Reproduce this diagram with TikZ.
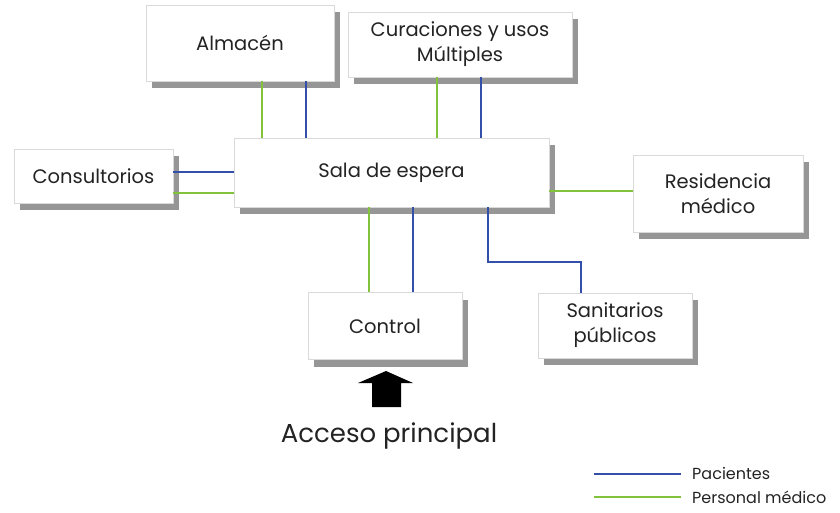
\documentclass[tikz,border=0pt]{standalone}
\usepackage{fontspec}
\setmainfont{Poppins}
\usetikzlibrary{shadows}
\definecolor{pacblue}{RGB}{50,80,170}
\definecolor{pergreen}{RGB}{130,195,60}
\definecolor{txt}{RGB}{35,35,35}
\definecolor{shad}{RGB}{150,150,150}
\begin{document}
\begin{tikzpicture}[x=1pt,y=-1pt,
  room/.style={draw=black!15, line width=0.5pt, fill=white, inner sep=0pt, align=center,
    text=txt, font=\fontsize{19.5}{25}\selectfont,
    drop shadow={shadow xshift=6pt, shadow yshift=-7pt, fill=shad, opacity=1}},
  pac/.style={draw=pacblue, line width=1.4pt},
  per/.style={draw=pergreen, line width=1.4pt}]
\useasboundingbox (0,0) rectangle (840,512);
\node[room, minimum width=188, minimum height=76] (alm) at (240,43) {Almacén};
\node[room, minimum width=224, minimum height=65] (cur) at (460,44.5) {Curaciones y usos\\Múltiples};
\node[room, minimum width=315, minimum height=69] (sala) at (391.5,172.5) {Sala de espera};
\node[room, minimum width=159, minimum height=54] (cons) at (93.5,176) {\raisebox{-3pt}{Consultorios}};
\node[room, minimum width=170, minimum height=77] (res) at (718,193.5) {Residencia\\médico};
\node[room, minimum width=154, minimum height=67] (ctrl) at (385,326) {Control};
\node[room, minimum width=154, minimum height=65] (san) at (615,325.5) {Sanitarios\\públicos};
% connectors
\draw[per] (alm.south -| 262,0) -- (sala.north -| 262,0);
\draw[pac] (alm.south -| 306,0) -- (sala.north -| 306,0);
\draw[per] (cur.south -| 437,0) -- (sala.north -| 437,0);
\draw[pac] (cur.south -| 481,0) -- (sala.north -| 481,0);
\draw[pac, line width=2.2pt] (cons.east |- 0,172) -- (sala.west |- 0,172);
\draw[per] (cons.east |- 0,193) -- (sala.west |- 0,193);
\draw[per] (sala.east |- 0,191) -- (res.west |- 0,191);
\draw[per] (sala.south -| 369,0) -- (ctrl.north -| 369,0);
\draw[pac] (sala.south -| 413,0) -- (ctrl.north -| 413,0);
\coordinate (bend1) at (488,262);
\coordinate (bend2) at (581,262);
\draw[pac] (sala.south -| bend1) -- (bend1) -- (bend2) -- (san.north -| bend2);
% entrance arrow
\fill[black] (372,407) -- (401,407) -- (401,383) -- (413,383) -- (386,371) -- (358,383) -- (372,383) -- cycle;
\node[text=txt, font=\fontsize{26}{30}\selectfont, anchor=center] (acc) at (389,436) {Acceso principal};
% legend
\coordinate (l1a) at (594,474);
\coordinate (l1b) at (681,474);
\coordinate (l2a) at (594,497);
\coordinate (l2b) at (681,497);
\draw[pac, line width=1.6pt] (l1a) -- (l1b);
\draw[per, line width=1.6pt] (l2a) -- (l2b);
\node[anchor=west, text=txt, font=\fontsize{16}{18}\selectfont, inner sep=0pt] (lp) at (692,473) {Pacientes};
\node[anchor=west, text=txt, font=\fontsize{16}{18}\selectfont, inner sep=0pt] (lm) at (692,497) {Personal médico};
\end{tikzpicture}
\end{document}
